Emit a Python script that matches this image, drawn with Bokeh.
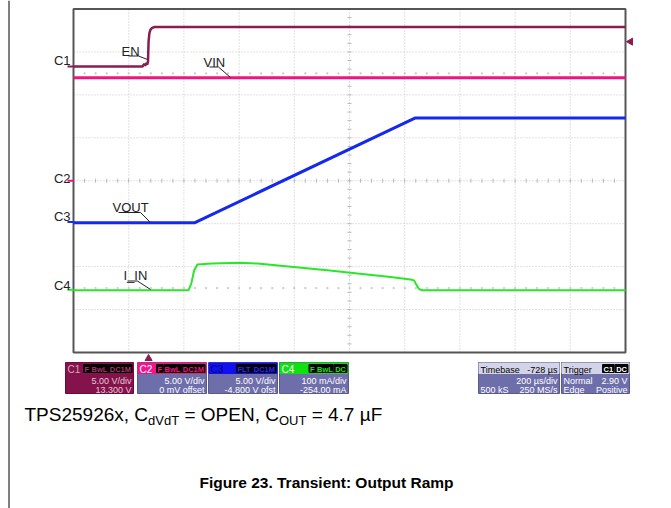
import numpy as np
from bokeh.plotting import figure
from bokeh.models import Range1d
from bokeh.core.properties import value
from bokeh.embed import file_html
from bokeh.resources import INLINE

# ------------------------------------------------------------------ data
time_per_div_us = 200.0
trigger_delay_us = -728.0
n_xdiv = 10
n_ydiv = 8

ch_names = ["C1", "C2", "C3", "C4"]
ch_scale = [5.0, 5.0, 5.0, 100.0]        # V/div, V/div, V/div, mA/div
ch_offset = [13.3, 0.0, -4.8, -254.0]    # V, V, V, mA
trigger_level_v = 2.90

en_t = [-272, -22, -16, -12, -8, -5, -2, 0, 3, 7, 13, 22, 1728]
en_v = [0.0, 0.0, 0.3, 0.1, 0.4, 0.2, 0.6, 2.9, 3.9, 4.3, 4.5, 4.6, 4.6]

vin_t = [-272, 1728]
vin_v = [12.0, 12.0]

vout_t = [-272, 166, 965, 1728]
vout_v = [-0.1, -0.1, 12.1, 12.1]

iin_t = [-272, 145, 155, 165, 177, 230, 333, 395, 525, 648, 757, 877, 949, 962, 970, 980, 990, 1728]
iin_ma = [-1, -1, 15, 45, 59, 61, 63, 61, 53, 45.5, 38, 30, 24, 22, 12, 2, -1, -1]

box_titles = ["C1", "C2", "C3", "C4"]
box_badges = [["F", "BwL", "DC1M"], ["F", "BwL", "DC1M"], ["FLT", "DC1M"], ["F", "BwL", "DC"]]
box_line1 = ["5.00 V/div", "5.00 V/div", "5.00 V/div", "100 mA/div"]
box_line2 = ["13.300 V", "0 mV offset", "-4.800 V ofst", "-254.00 mA"]

# ------------------------------------------------------------------ layout (page pixels)
W, H = 671, 508
SL, SR, ST, SB = 73, 625, 8.5, 352   # scope frame in page pixels

x_left = -trigger_delay_us - (n_xdiv / 2) * time_per_div_us
x_right = x_left + n_xdiv * time_per_div_us
kx = (x_right - x_left) / (SR - SL)
ky = n_ydiv / (SB - ST)
xs = x_left - SL * kx
xe = x_right + (W - SR) * kx
ye = n_ydiv / 2 + ST * ky
ys = -n_ydiv / 2 - (H - SB) * ky
YC = (ST + SB) / 2


def X(px):
    return xs + px * kx


def Y(py):
    return ye - py * ky


p = figure(width=W, height=H, x_range=Range1d(xs, xe), y_range=Range1d(ys, ye),
           output_backend="svg", toolbar_location=None, min_border=0,
           x_axis_type=None, y_axis_type=None, outline_line_color=None,
           background_fill_color="white", border_fill_color="white")
p.grid.visible = False

for i, n in enumerate(ch_names):
    s, o = ch_scale[i], ch_offset[i]
    p.extra_y_ranges[n] = Range1d(ys * s - o, ye * s - o)

FONT = value("Liberation Sans")
NB = "\u00a0"

# page border line at left
p.segment(x0=[X(8.5)], y0=[Y(0)], x1=[X(8.5)], y1=[Y(508)], line_color="black", line_width=1)

# grid
gx = [x_left + i * time_per_div_us for i in range(1, n_xdiv)]
gy = [-n_ydiv / 2 + j for j in range(1, n_ydiv)]
p.segment(x0=gx, y0=[-n_ydiv / 2] * len(gx), x1=gx, y1=[n_ydiv / 2] * len(gx),
          line_color="#c4c4c4", line_width=1, line_dash="1 2")
p.segment(x0=[x_left] * len(gy), y0=gy, x1=[x_right] * len(gy), y1=gy,
          line_color="#c4c4c4", line_width=1, line_dash="1 2")
# centre ticks
xc = (x_left + x_right) / 2
tx = [x_left + k * time_per_div_us / 5 for k in range(1, n_xdiv * 5)]
p.segment(x0=tx, y0=[-2 * ky] * len(tx), x1=tx, y1=[2 * ky] * len(tx), line_color="#b8b8b8", line_width=1)
ty = [-n_ydiv / 2 + k / 5 for k in range(1, n_ydiv * 5)]
p.segment(x0=[xc - 2 * kx] * len(ty), y0=ty, x1=[xc + 2 * kx] * len(ty), y1=ty, line_color="#b8b8b8", line_width=1)
# faint dotted rows
for yy in (2.5, -2.5):
    p.scatter(x=tx, y=[yy] * len(tx), size=1.2, color="#cccccc", marker="square")

# frame
p.quad(left=[x_left], right=[x_right], bottom=[-n_ydiv / 2], top=[n_ydiv / 2],
       fill_color=None, line_color="#555555", line_width=2)

# traces
c_en, c_vin, c_vout, c_iin = "#8a1c50", "#f0147e", "#1428f0", "#2ae62a"
p.line(iin_t, iin_ma, y_range_name="C4", line_color=c_iin, line_width=2)
p.line(vout_t, vout_v, y_range_name="C3", line_color=c_vout, line_width=3)
p.line(vin_t, vin_v, y_range_name="C2", line_color=c_vin, line_width=3)
p.line(en_t, en_v, y_range_name="C1", line_color=c_en, line_width=2.5)

AW = {' ': 278, NB: 278, 'C': 722, 'F': 611, 'B': 667, 'w': 722, 'L': 556, 'D': 722, 'M': 833,
      '1': 556, 'T': 611, 'P': 667, 'S': 667, 'x': 500, ',': 278, 'd': 556, 'V': 667, '=': 584,
      'O': 778, 'E': 667, 'N': 722, 'U': 722, '.': 278, 'µ': 576, 'I': 278}


def tw(s, size):
    return sum(AW.get(c, 556) for c in s) * size / 1000.0


def txt(x, y, s, size=9, color="white", align="left", bold=False):
    # y is the intended baseline in page pixels
    yy = y - 0.22 * size
    p.text(x=[X(x)], y=[Y(yy)], text=[s], text_font=FONT, text_font_size=f"{size}px",
           text_color=color, text_align=align, text_baseline="alphabetic",
           text_font_style="bold" if bold else "normal")


def quad(x0, x1, y0, y1, fill, line=None):
    p.quad(left=[X(x0)], right=[X(x1)], top=[Y(y0)], bottom=[Y(y1)], fill_color=fill,
           line_color=line if line else fill, line_width=1)


# channel ground markers and labels
ch_colors = [c_en, c_vin, c_vout, c_iin]
lab_dy = [-3, 1, -2.5, -1]
for i, n in enumerate(ch_names):
    p.segment(x0=[X(67)], y0=[0], x1=[X(73)], y1=[0], y_range_name=n, line_color=ch_colors[i], line_width=2)
    gpy = YC - (ch_offset[i] / ch_scale[i]) * (SB - ST) / n_ydiv
    txt(70, gpy + lab_dy[i], n, 13, "#222222", "right")

# trigger markers
p.scatter(x=[0], y=[Y(358)], marker="triangle", size=7, color=c_en)
p.scatter(x=[X(630)], y=[trigger_level_v], y_range_name="C1", marker="triangle", size=7,
          angle=np.pi / 2, color=c_en)

# trace annotations
ann = [("EN", 121, 54, [(128, 55.5), (138, 55.5), (147, 59)]),
       ("VIN", 203, 65, [(209, 66.5), (218, 66.5), (230, 77)]),
       ("VOUT", 112, 210, [(118, 212), (140, 212), (150, 222)]),
       ("I_IN", 123, 278, [(127, 280.5), (137, 280.5), (150, 289)])]
for t, tx0, ty0, pts in ann:
    txt(tx0, ty0, t, 13, "#222222")
    p.line([X(a) for a, b in pts], [Y(b) for a, b in pts], line_color="#222222", line_width=1)

# ------------------------------------------------------------------ info boxes
bx = [(65, 133), (137, 206), (208, 277), (279, 348)]
hdr_col = ["#85134b", "#f2168a", "#1010f0", "#10e010"]
body_col = ["#85134b", "#6e6eaa", "#6e6eaa", "#6e6eaa"]
title_col = ["#d6a8c0", "white", "#000070", "white"]
badge_txt = ["#b03070", "#f2168a", "#2a2aff", "#20e020"]
body_txt = ["#e3c7d5", "white", "white", "white"]
BY0, BYH, BY1 = 362, 373, 393
for i in range(4):
    a, b = bx[i]
    quad(a, b, BY0, BY1, body_col[i], "#5a5a8a" if i else "#6a0a3a")
    quad(a + 0.5, b - 0.5, BY0 + 0.5, BYH, hdr_col[i])
    txt(a + 2, BYH - 1.5, box_titles[i], 10, title_col[i])
    xr = b - 1.5
    for bdg in reversed(box_badges[i]):
        w = tw(bdg, 7.5) + 2
        quad(xr - w, xr, BY0 + 2, BYH - 1, "black")
        txt(xr - w / 2, BYH - 2.5, bdg, 7.5, badge_txt[i], "center", True)
        xr -= w + 1
    txt(b - 2, 382, box_line1[i], 9, body_txt[i], "right")
    txt(b - 2, 391.5, box_line2[i], 9, body_txt[i], "right")

# timebase
quad(478, 559, BY0, BY1, "#6e6eaa", "#5a5a8a")
quad(478.5, 558.5, BY0 + 0.5, BYH, "#d4d4e8")
txt(480, BYH - 1.5, "Timebase", 9, "black")
txt(557, BYH - 1.5, "-728 µs", 9, "black", "right")
txt(557, 382, "200 µs/div", 9, "white", "right")
txt(480, 391.5, "500 kS", 9, "white")
txt(557, 391.5, "250 MS/s", 9, "white", "right")
# trigger
quad(561, 629, BY0, BY1, "#6e6eaa", "#5a5a8a")
quad(561.5, 628.5, BY0 + 0.5, BYH, "#d4d4e8")
txt(563, BYH - 1.5, "Trigger", 9, "black")
xr = 627.5
for bdg in ["DC", "C1"]:
    w = tw(bdg, 7.5) + 2
    quad(xr - w, xr, BY0 + 2, BYH - 1, "black")
    txt(xr - w / 2, BYH - 2.5, bdg, 7.5, "white", "center", True)
    xr -= w + 1
txt(563, 382, "Normal", 9, "white")
txt(627, 382, "2.90 V", 9, "white", "right")
txt(563, 391.5, "Edge", 9, "white")
txt(627, 391.5, "Positive", 9, "white", "right")

# ------------------------------------------------------------------ captions
FS, SS, SD = 19, 13, 4.5
parts = [("TPS25926x, C", False), ("dVdT", True), (NB + "=" + NB + "OPEN, C", False),
         ("OUT", True), (NB + "=" + NB + "4.7 µF", False)]
cx = 24
for s, sub in parts:
    size = SS if sub else FS
    txt(cx, 418 + (SD if sub else 0), s, size, "black")
    cx += tw(s, size)

txt(326, 485, "Figure 23. Transient: Output Ramp", 15.5, "black", "center", True)

open("out.html", "w").write(file_html(p, INLINE))
